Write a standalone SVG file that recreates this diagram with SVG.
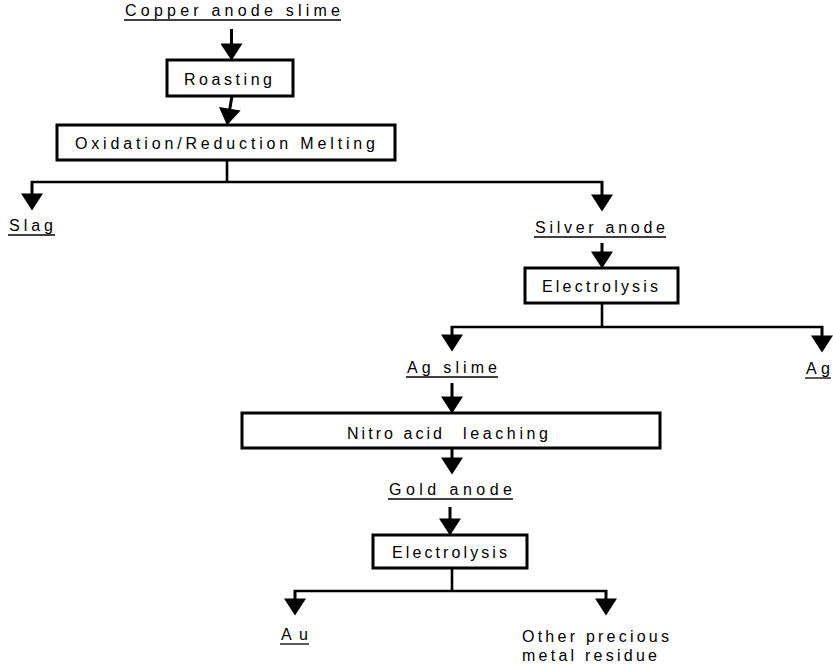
<svg xmlns="http://www.w3.org/2000/svg" width="833" height="666" viewBox="0 0 833 666">
<style>
  .box { fill: #fff; stroke: #000; stroke-width: 3; }
  .t { font-family: "Liberation Sans", Arial, sans-serif; font-size: 16px; fill: #000; }
  .ul { stroke: #000; stroke-width: 1.3; }
  .c { fill: none; stroke: #000; stroke-width: 2.6; }
  .a { fill: none; stroke: #000; stroke-width: 3; marker-end: url(#ah); }
</style>
<defs>
  <marker id="ah" markerUnits="userSpaceOnUse" markerWidth="18" markerHeight="22" viewBox="0 0 16 21" refX="8" refY="10.5" orient="auto">
    <path d="M0,0 L16,10.5 L0,21 Z" fill="#000"/>
  </marker>
</defs>
<rect width="833" height="666" fill="#fff"/>

<g id="connectors">
  <path class="a" d="M231.5,29 V52"/>
  <path class="a" d="M232,96 L228.4,117"/>
  <path class="c" d="M227,160 V182 M31,182 H603"/>
  <path class="a" d="M32,181 V202"/>
  <path class="a" d="M602,181 V203"/>
  <path class="a" d="M602,243 V260"/>
  <path class="c" d="M602,303 V327 M451,327 H823"/>
  <path class="a" d="M452,326 V343"/>
  <path class="a" d="M822,326 V344"/>
  <path class="a" d="M452,383 V405"/>
  <path class="a" d="M452,448 V466"/>
  <path class="a" d="M450,507 V527"/>
  <path class="c" d="M452,568 V591 M294,591 H607"/>
  <path class="a" d="M295,590 V607"/>
  <path class="a" d="M606,590 V607"/>
</g>

<g id="copper-anode-slime">
  <text class="t" x="125" y="16" textLength="215" lengthAdjust="spacing">Copper anode slime</text>
  <line class="ul" x1="124" y1="20" x2="341" y2="20"/>
</g>

<g id="roasting">
  <rect class="box" x="167" y="60" width="126" height="36"/>
  <text class="t" x="184" y="85" textLength="88" lengthAdjust="spacing">Roasting</text>
</g>

<g id="oxidation-reduction-melting">
  <rect class="box" x="57" y="125" width="338" height="35"/>
  <text class="t" x="75" y="149" textLength="300" lengthAdjust="spacing">Oxidation/Reduction Melting</text>
</g>

<g id="slag">
  <text class="t" x="9" y="231" textLength="44" lengthAdjust="spacing">Slag</text>
  <line class="ul" x1="8" y1="235" x2="55" y2="235"/>
</g>

<g id="silver-anode">
  <text class="t" x="535" y="233" textLength="130" lengthAdjust="spacing">Silver anode</text>
  <line class="ul" x1="534" y1="237" x2="666" y2="237"/>
</g>

<g id="electrolysis-1">
  <rect class="box" x="525" y="268" width="153" height="35"/>
  <text class="t" x="542" y="292" textLength="116" lengthAdjust="spacing">Electrolysis</text>
</g>

<g id="ag-slime">
  <text class="t" x="407" y="373" textLength="90" lengthAdjust="spacing">Ag slime</text>
  <line class="ul" x1="406" y1="377" x2="498" y2="377"/>
</g>

<g id="ag">
  <text class="t" x="806" y="374" textLength="24" lengthAdjust="spacing">Ag</text>
  <line class="ul" x1="805" y1="378" x2="831" y2="378"/>
</g>

<g id="nitro-acid-leaching">
  <rect class="box" x="242" y="413" width="418" height="35"/>
  <text class="t" x="347" y="439" textLength="95" lengthAdjust="spacing">Nitro acid</text>
  <text class="t" x="463" y="439" textLength="85" lengthAdjust="spacing">leaching</text>
</g>

<g id="gold-anode">
  <text class="t" x="389" y="495" textLength="123" lengthAdjust="spacing">Gold anode</text>
  <line class="ul" x1="388" y1="499" x2="513" y2="499"/>
</g>

<g id="electrolysis-2">
  <rect class="box" x="373" y="535" width="154" height="33"/>
  <text class="t" x="392" y="558" textLength="115" lengthAdjust="spacing">Electrolysis</text>
</g>

<g id="au">
  <text class="t" x="281" y="640" textLength="27" lengthAdjust="spacing">Au</text>
  <line class="ul" x1="280" y1="644" x2="309" y2="644"/>
</g>

<g id="other-precious-metal-residue">
  <text class="t" x="522" y="642" textLength="147" lengthAdjust="spacing">Other precious</text>
  <text class="t" x="522" y="661" textLength="135" lengthAdjust="spacing">metal residue</text>
</g>
</svg>
